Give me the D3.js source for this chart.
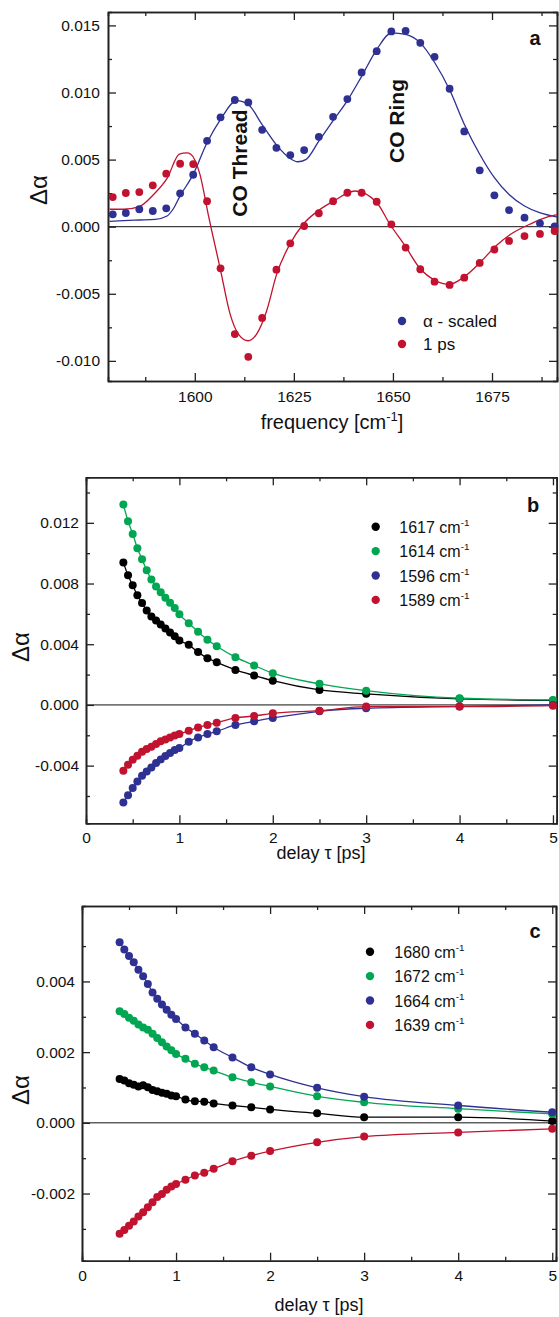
<!DOCTYPE html>
<html>
<head>
<meta charset="utf-8">
<script src="https://cdn.jsdelivr.net/npm/d3@7"></script>
<style>
  body { margin: 0; background: #fff; }
  text { font-family: "Liberation Sans", Arial, sans-serif; fill: #111; }
</style>
</head>
<body>
<div class="canvas"></div>
<script>
// panel a: spectra vs frequency
const freq = [1579.3,1582.6,1586.0,1589.4,1592.8,1596.3,1599.6,1603.1,1606.5,1610.1,1613.5,1617.0,1620.6,1624.1,1627.6,1631.3,
    1634.9,1638.5,1642.1,1645.9,1649.6,1653.2,1656.9,1660.5,1664.3,1668.0,1671.9,1675.6,1679.3,1683.2,1687.1,1690.8];
const alphaScaled = [0.00092,0.00102,0.00130,0.00117,0.00137,0.00249,0.00387,0.00640,0.00815,0.00944,0.00926,0.00722,0.00588,0.00534,0.00571,0.00670,
    0.00819,0.00951,0.01150,0.01308,0.01455,0.01460,0.01370,0.01266,0.01028,0.00710,0.00420,0.00234,0.00124,0.00067,0.00025,0.00002];
const onePs = [0.00221,0.00251,0.00258,0.00308,0.00395,0.00469,0.00467,0.00190,-0.00310,-0.00800,-0.00970,-0.00680,-0.00320,-0.00124,0.00005,0.00100,
    0.00190,0.00253,0.00253,0.00186,0.00018,-0.00156,-0.00317,-0.00410,-0.00434,-0.00380,-0.00270,-0.00170,-0.00106,-0.00070,-0.00054,-0.00032];

// fitted curves
const alphaFitFreq = [1578.5,1582,1586,1590,1593,1594.5,1596.3,1599.6,1603,1606.5,1610.6,1613.5,1617,1620.6,1624,1626,1628,1631.3,1634.9,1638.5,
    1642.1,1645.9,1649.7,1653.2,1656.9,1660.6,1664.3,1668,1671.9,1675.6,1679.3,1683.2,1687,1691.5];
const alphaFit = [0.00040,0.00045,0.00050,0.00055,0.00080,0.00130,0.00230,0.00390,0.00620,0.00800,0.00940,0.00910,0.00760,0.00610,0.00510,0.00484,0.00500,0.00638,0.00790,0.00940,
    0.01120,0.01320,0.01445,0.01433,0.01370,0.01220,0.01020,0.00764,0.00540,0.00365,0.00240,0.00154,0.00104,0.00072];
const onePsFitFreq = [1578.5,1582,1586,1589.6,1593,1596.1,1598,1599,1601.3,1603.4,1604.2,1606.4,1608.9,1611,1613.5,1615.6,1618.1,1620.7,1624,1627.4,
    1631.2,1635,1640.4,1645.9,1649.2,1653,1656.8,1660.6,1664.2,1667.7,1671.9,1676.1,1680.3,1684.5,1688.7,1691.5];
const onePsFit = [0.0013,0.0013,0.0015,0.0024,0.0036,0.0054,0.0055,0.0054,0.0039,0.0009,-0.0002,-0.0031,-0.0065,-0.0080,-0.0085,-0.0080,-0.0063,-0.0035,-0.0013,0.0002,
    0.0012,0.0019,0.00266,0.0018,0.0002,-0.0014,-0.0031,-0.0040,-0.0043,-0.0038,-0.0027,-0.0014,-0.00045,0.00018,0.0007,0.0009];

// panels b and c: kinetics vs delay
const delays = [0.40,0.45,0.50,0.55,0.60,0.65,0.70,0.75,0.80,0.85,0.90,0.95,1.00,1.1,1.2,1.3,1.4,1.6,1.8,2.0,2.5,3,4,5];

const b1617 = [0.00938,0.00854,0.00788,0.00722,0.00671,0.00623,0.00583,0.00557,0.00530,0.00504,0.00478,0.00453,0.00425,0.00396,0.00348,0.00308,0.00281,0.00231,0.00194,0.00160,0.00099,0.00073,0.00040,0.00030];
const b1614 = [0.01321,0.01211,0.01127,0.01033,0.00960,0.00887,0.00826,0.00781,0.00742,0.00707,0.00674,0.00638,0.00597,0.00539,0.00482,0.00429,0.00387,0.00315,0.00260,0.00209,0.00139,0.00094,0.00044,0.00033];
const b1596 = [-0.00643,-0.00595,-0.00548,-0.00505,-0.00467,-0.00439,-0.00412,-0.00383,-0.00359,-0.00337,-0.00317,-0.00297,-0.00284,-0.00242,-0.00214,-0.00192,-0.00174,-0.00132,-0.00108,-0.00086,-0.00042,-0.00022,-0.00010,0.00000];
const b1589 = [-0.00434,-0.00394,-0.00361,-0.00335,-0.00308,-0.00291,-0.00275,-0.00258,-0.00240,-0.00227,-0.00214,-0.00201,-0.00192,-0.00170,-0.00148,-0.00132,-0.00117,-0.00086,-0.00073,-0.00055,-0.00038,-0.00011,-0.00011,-0.00005];

const c1680 = [0.00124,0.00120,0.00112,0.00108,0.00103,0.00106,0.00101,0.00093,0.00089,0.00085,0.00082,0.00077,0.00075,0.00066,0.00061,0.00060,0.00055,0.00049,0.00044,0.00038,0.00027,0.00016,0.00016,0.00005];
const c1672 = [0.00316,0.00308,0.00297,0.00289,0.00278,0.00270,0.00263,0.00252,0.00240,0.00228,0.00216,0.00205,0.00195,0.00181,0.00167,0.00157,0.00148,0.00129,0.00115,0.00103,0.00075,0.00058,0.00040,0.00025];
const c1664 = [0.00511,0.00490,0.00472,0.00454,0.00433,0.00415,0.00393,0.00369,0.00351,0.00335,0.00320,0.00306,0.00294,0.00270,0.00252,0.00233,0.00214,0.00185,0.00157,0.00137,0.00099,0.00074,0.00049,0.00030];
const c1639 = [-0.00314,-0.00303,-0.00291,-0.00279,-0.00265,-0.00253,-0.00239,-0.00225,-0.00210,-0.00201,-0.00189,-0.00180,-0.00173,-0.00161,-0.00149,-0.00141,-0.00130,-0.00109,-0.00093,-0.00080,-0.00055,-0.00039,-0.00027,-0.00017];

const bLabels = ['1617','1614','1596','1589'];
const cLabels = ['1680','1672','1664','1639'];

const blue = '#2e3192', red = '#c1122f', green = '#00a651', black = '#000000';

const svg = d3.select('.canvas')
    .append('svg')
        .attr('width', 559)
        .attr('height', 1317);

const fmt3 = d => d.toFixed(3);

// frame with inward ticks on all four sides
function panel(box, xDomain, yDomain, ticks) {
    const x = d3.scaleLinear().domain(xDomain).range([box.left, box.right]);
    const y = d3.scaleLinear().domain(yDomain).range([box.bottom, box.top]);
    const g = svg.append('g');

    g.append('line')
        .attr('x1', box.left).attr('x2', box.right)
        .attr('y1', y(0)).attr('y2', y(0))
        .attr('stroke', '#111').attr('stroke-width', 1);

    g.append('g').attr('transform', `translate(0,${box.bottom})`)
        .call(d3.axisBottom(x).tickValues(ticks.xMajor).tickSizeInner(-8).tickSizeOuter(0)
            .tickPadding(ticks.xPad).tickFormat(d3.format('d')));
    g.append('g').attr('transform', `translate(0,${box.bottom})`)
        .call(d3.axisBottom(x).tickValues(ticks.xMinor).tickSize(-4).tickFormat(''));
    g.append('g').attr('transform', `translate(0,${box.top})`)
        .call(d3.axisTop(x).tickValues(ticks.xMajor).tickSizeInner(-8).tickSizeOuter(0).tickFormat(''));
    g.append('g').attr('transform', `translate(0,${box.top})`)
        .call(d3.axisTop(x).tickValues(ticks.xMinor).tickSize(-4).tickFormat(''));

    g.append('g').attr('transform', `translate(${box.left},0)`)
        .call(d3.axisLeft(y).tickValues(ticks.yMajor).tickSizeInner(-8).tickSizeOuter(0)
            .tickPadding(ticks.yPad).tickFormat(fmt3));
    g.append('g').attr('transform', `translate(${box.left},0)`)
        .call(d3.axisLeft(y).tickValues(ticks.yMinor).tickSize(-4).tickFormat(''));
    g.append('g').attr('transform', `translate(${box.right},0)`)
        .call(d3.axisRight(y).tickValues(ticks.yMajor).tickSizeInner(-8).tickSizeOuter(0).tickFormat(''));
    g.append('g').attr('transform', `translate(${box.right},0)`)
        .call(d3.axisRight(y).tickValues(ticks.yMinor).tickSize(-4).tickFormat(''));

    g.selectAll('.domain').attr('stroke', '#222').attr('stroke-width', 1.6);
    g.selectAll('.tick line').attr('stroke', '#222').attr('stroke-width', 1.3);
    g.selectAll('.tick text')
        .attr('font-family', '"Liberation Sans", Arial, sans-serif')
        .attr('font-size', 15.5)
        .attr('fill', '#111');

    return {x, y, g};
}

function series(p, xs, ys, color, curve) {
    const pts = xs.map((d, i) => [d, ys[i]]);
    p.g.append('path')
        .datum(pts)
        .attr('fill', 'none')
        .attr('stroke', color)
        .attr('stroke-width', 1.3)
        .attr('d', d3.line().x(d => p.x(d[0])).y(d => p.y(d[1])).curve(curve));
}

function dots(p, xs, ys, color, r) {
    p.g.append('g').selectAll('circle')
        .data(xs.map((d, i) => [d, ys[i]]))
        .enter()
        .append('circle')
            .attr('cx', d => p.x(d[0]))
            .attr('cy', d => p.y(d[1]))
            .attr('r', r)
            .attr('fill', color);
}

function yTitle(xPos, yPos) {
    svg.append('text')
        .attr('transform', `translate(${xPos},${yPos}) rotate(-90)`)
        .attr('text-anchor', 'middle')
        .attr('font-size', 24)
        .text('Δα');
}

function xTitle(xPos, yPos, label) {
    svg.append('text')
        .attr('x', xPos).attr('y', yPos).attr('text-anchor', 'middle').attr('font-size', 18)
        .text(label);
}

function legend(items, xDot, xText, yStart, step, size) {
    items.forEach((it, i) => {
        svg.append('circle')
            .attr('cx', xDot).attr('cy', yStart + i * step).attr('r', 4.2).attr('fill', it.color);
        const t = svg.append('text')
            .attr('x', xText).attr('y', yStart + i * step + 6)
            .attr('font-size', size)
            .text(it.text);
        if (it.sup) {
            t.append('tspan').attr('dy', -7).attr('font-size', size * 0.62).text(it.sup);
        }
    });
}

/* ------------------------------------------------- */
// panel a
const pa = panel({left: 108, right: 557, top: 12, bottom: 381},
    [1578.1, 1691.4], [-0.0115, 0.016],
    {xMajor: [1600, 1625, 1650, 1675], xMinor: [1587.5, 1612.5, 1637.5, 1662.5, 1687.5],
     yMajor: [-0.010, -0.005, 0, 0.005, 0.010, 0.015], yMinor: [-0.0075, -0.0025, 0.0025, 0.0075, 0.0125],
     xPad: 10, yPad: 8});

series(pa, alphaFitFreq, alphaFit, blue, d3.curveMonotoneX);
series(pa, onePsFitFreq, onePsFit, red, d3.curveMonotoneX);
dots(pa, freq, alphaScaled, blue, 3.9);
dots(pa, freq, onePs, red, 3.9);

yTitle(47, 190);
const fLabel = svg.append('text')
    .attr('x', 332).attr('y', 429)
    .attr('text-anchor', 'middle')
    .attr('font-size', 20)
    .text('frequency [cm');
fLabel.append('tspan').attr('dy', -8).attr('font-size', 13).text('-1');
fLabel.append('tspan').attr('dy', 8).text(']');

svg.append('text')
    .attr('transform', 'translate(247,163) rotate(-90)')
    .attr('text-anchor', 'middle').attr('font-size', 21).attr('font-weight', 'bold')
    .text('CO Thread');
svg.append('text')
    .attr('transform', 'translate(404,121) rotate(-90)')
    .attr('text-anchor', 'middle').attr('font-size', 21).attr('font-weight', 'bold')
    .text('CO Ring');
svg.append('text')
    .attr('x', 535).attr('y', 45).attr('text-anchor', 'middle')
    .attr('font-size', 20).attr('font-weight', 'bold')
    .text('a');

legend([{color: blue, text: 'α - scaled'}, {color: red, text: '1 ps'}], 402, 423, 321, 23, 17);

/* ------------------------------------------------- */
// panel b
const delayTicks = {xMajor: [0, 1, 2, 3, 4, 5], xMinor: [0.5, 1.5, 2.5, 3.5, 4.5], xPad: 9, yPad: 7};

const pb = panel({left: 86, right: 556.7, top: 477.3, bottom: 823.3},
    [0, 5.04], [-0.0078, 0.015],
    Object.assign({yMajor: [-0.004, 0, 0.004, 0.008, 0.012], yMinor: [-0.006, -0.002, 0.002, 0.006, 0.010, 0.014]}, delayTicks));

const bSeries = [b1617, b1614, b1596, b1589];
const bColors = [black, green, blue, red];
bSeries.forEach((s, i) => series(pb, delays, s, bColors[i], d3.curveMonotoneX));
bSeries.forEach((s, i) => dots(pb, delays, s, bColors[i], 4));

yTitle(28.5, 647);
xTitle(321, 859, 'delay τ [ps]');
svg.append('text')
    .attr('x', 533).attr('y', 512).attr('text-anchor', 'middle')
    .attr('font-size', 20).attr('font-weight', 'bold')
    .text('b');
legend(bLabels.map((l, i) => ({color: bColors[i], text: l + ' cm', sup: '-1'})), 375.7, 399.3, 526.7, 24.4, 16);

/* ------------------------------------------------- */
// panel c
const pc = panel({left: 82, right: 556, top: 906, bottom: 1260.7},
    [0, 5.04], [-0.0039, -0.0039 + (1260.7 - 906) / 35350],
    Object.assign({yMajor: [-0.002, 0, 0.002, 0.004], yMinor: [-0.003, -0.001, 0.001, 0.003, 0.005]}, delayTicks));

const cSeries = [c1680, c1672, c1664, c1639];
const cColors = [black, green, blue, red];
cSeries.forEach((s, i) => series(pc, delays, s, cColors[i], d3.curveMonotoneX));
cSeries.forEach((s, i) => dots(pc, delays, s, cColors[i], 4));

yTitle(28.5, 1090);
xTitle(319, 1311, 'delay τ [ps]');
svg.append('text')
    .attr('x', 535).attr('y', 938).attr('text-anchor', 'middle')
    .attr('font-size', 20).attr('font-weight', 'bold')
    .text('c');
legend(cLabels.map((l, i) => ({color: cColors[i], text: l + ' cm', sup: '-1'})), 370, 394.3, 951.7, 24.4, 16);
</script>
</body>
</html>
